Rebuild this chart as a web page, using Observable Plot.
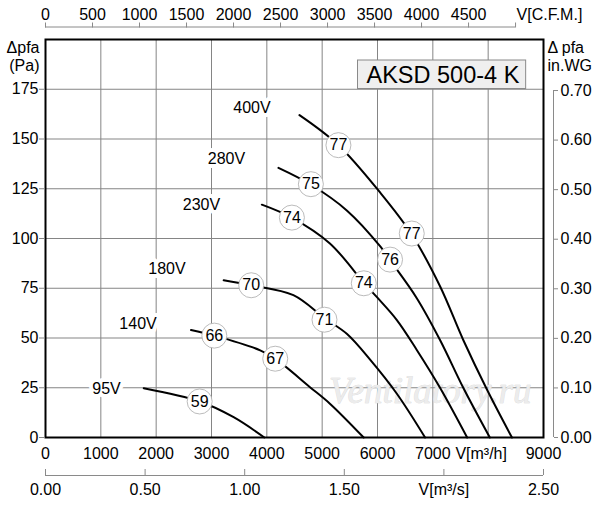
<!DOCTYPE html>
<html><head><meta charset="utf-8">
<script src="https://cdn.jsdelivr.net/npm/d3@7"></script>
<script src="https://cdn.jsdelivr.net/npm/@observablehq/plot@0.6"></script>
<style>
body{margin:0;background:#fff}
#chart svg{font-family:"Liberation Sans", Arial, Helvetica, sans-serif}
</style>
</head><body><div id="chart"></div>
<script>
// ---- scales / ticks ----
const xDomain = [0, 9000];            // m³/h
const yDomain = [0, 200];             // Pa
const flowTicks = [0, 1000, 2000, 3000, 4000, 5000, 6000, 7000, 9000];
const flowGrid = [1000, 2000, 3000, 4000, 5000, 6000, 7000, 8000];
const flowAxisLabel = "V[m³/h]";
const flowAxisLabelAt = 8000;
const paTicks = [0, 25, 50, 75, 100, 125, 150, 175];
const paGrid = [25, 50, 75, 100, 125, 150, 175];
const cfmTicks = [0, 500, 1000, 1500, 2000, 2500, 3000, 3500, 4000, 4500];
const cfmEnd = 5000;
const cfmAxisLabel = "V[C.F.M.]";
const m3sTicks = [0, 0.5, 1, 1.5, 2, 2.5];
const m3sLabels = ["0.00", "0.50", "1.00", "1.50", "V[m³/s]", "2.50"];
const inwgTicks = [0, 0.1, 0.2, 0.3, 0.4, 0.5, 0.6, 0.7];
const CFM_TO_M3H = 1.699;
const M3S_TO_M3H = 3600;
const INWG_TO_PA = 249.09;
const title = "AKSD 500-4 K";
const watermark = "Ventilatory.ru";

// ---- fan curves (V m³/h, Δpfa Pa) ----
const voltages = ["400V", "280V", "230V", "180V", "140V", "95V"];
const curveV400 = [[4590,162],[5290,147],[6050,123],[6620,102],[7130,76],[7550,49],[7980,24],[8430,0]];
const curveV280 = [[4210,135.5],[4800,127],[5450,114],[6050,96],[6230,89],[6710,70],[7130,49],[7550,25],[8030,0]];
const curveV230 = [[3910,117],[4450,110.5],[5140,97.5],[5760,77.5],[5990,70.5],[6350,59],[6710,44],[7130,25],[7620,0]];
const curveV180 = [[3220,79],[3720,76.5],[4480,71.5],[5040,60],[5450,52],[5870,39],[6350,22],[6860,0]];
const curveV140 = [[2630,54],[3050,51.2],[3880,43.8],[4150,39.6],[4780,25.3],[5140,17],[5750,0]];
const curveV95  = [[1775,24.8],[2790,18.1],[3400,10.2],[3955,0]];
const curves = [curveV400, curveV280, curveV230, curveV180, curveV140, curveV95];

// voltage label positions (m³/h, Pa)
const voltLabelX = [3732, 3271, 2819, 2196, 1672, 1102];
const voltLabelY = [165.8, 140.2, 117.1, 84.9, 57.3, 24.4];

// sound level markers (dB(A))
const noiseLevels = [77, 77, 75, 76, 74, 74, 70, 71, 66, 67, 59];
const noiseX = [5294, 6619, 4796, 6227, 4453, 5752, 3718, 5042, 3051, 4152, 2786];
const noiseY = [146.9, 102.5, 127.3, 89.4, 110.5, 77.5, 76.5, 59.2, 51.2, 39.6, 18.1];

// ---- build tables ----
const lineData = curves.flatMap((c, i) => c.map(([x, y]) => ({v: voltages[i], x, y})));
const voltData = voltages.map((v, i) => ({v, x: voltLabelX[i], y: voltLabelY[i]}));
const noiseData = noiseLevels.map((n, i) => ({n, x: noiseX[i], y: noiseY[i]}));
const m3sMap = new Map(m3sTicks.map((v, i) => [v * M3S_TO_M3H, m3sLabels[i]]));
const cfmMap = new Map(cfmTicks.map(v => [v * CFM_TO_M3H, String(v)]));

const gray = "#858585";
const axisGray = "#8a8a8a";

const plot = Plot.plot({
  width: 600, height: 505,
  marginLeft: 45, marginRight: 57, marginTop: 39, marginBottom: 68,
  x: {domain: xDomain, axis: null},
  y: {domain: yDomain, axis: null},
  style: {fontSize: "16px", background: "white", color: "black", overflow: "visible"},
  marks: [
    Plot.gridX(flowGrid, {stroke: gray, strokeOpacity: 1, strokeWidth: 1}),
    Plot.gridY(paGrid, {stroke: gray, strokeOpacity: 1, strokeWidth: 1}),
    Plot.text([watermark], {frameAnchor: "bottom-right", dx: -12, dy: -35, textAnchor: "end", lineAnchor: "bottom",
      fontSize: 37, fontStyle: "italic", fontFamily: "Liberation Serif, serif", fill: "#ececec", stroke: "#d2d2d2", strokeWidth: 0.6}),
    Plot.line(lineData, {x: "x", y: "y", z: "v", curve: "catmull-rom", stroke: "black", strokeWidth: 2}),
    Plot.dot(noiseData, {x: "x", y: "y", r: 12.5, fill: "white", stroke: "#aaa", strokeWidth: 0.8}),
    Plot.text(noiseData, {x: "x", y: "y", text: d => String(d.n), fontSize: 16, fill: "black"}),
    Plot.text(voltData, {x: "x", y: "y", text: "v", fontSize: 16, fill: "black", stroke: "white", strokeWidth: 8}),
    Plot.frame({stroke: "black", strokeWidth: 2}),
    // left Pa axis
    Plot.axisY(paTicks, {anchor: "left", tickSize: 6, tickPadding: 1, stroke: gray, tickFormat: d => String(d), label: null, fontSize: 16}),
    Plot.text(["Δpfa\n(Pa)"], {frameAnchor: "top-left", dx: -6, dy: 0, textAnchor: "end", lineAnchor: "top", lineHeight: 1.15, fontSize: 16}),
    // right in.WG axis
    Plot.ruleX([xDomain[1]], {y1: yDomain[0], y2: inwgTicks[inwgTicks.length - 1] * INWG_TO_PA, dx: 10, stroke: axisGray}),
    Plot.axisY(inwgTicks.map(v => v * INWG_TO_PA), {anchor: "right", dx: 10, tickSize: 4, tickPadding: 3, stroke: axisGray,
      tickFormat: d => (d / INWG_TO_PA).toFixed(2), label: null, fontSize: 16}),
    Plot.text(["Δ pfa\nin.WG"], {frameAnchor: "top-right", dx: 4, dy: 0, textAnchor: "start", lineAnchor: "top", lineHeight: 1.15, fontSize: 16}),
    // bottom m³/h axis
    Plot.axisX(flowTicks, {anchor: "bottom", tickSize: 0, tickPadding: 10, tickFormat: d => String(d), label: null, fontSize: 16}),
    Plot.text([flowAxisLabel], {x: flowAxisLabelAt, frameAnchor: "bottom", dx: -7, dy: 10, lineAnchor: "top", fontSize: 16}),
    // bottom m³/s axis
    Plot.ruleY([yDomain[0]], {x1: m3sTicks[0] * M3S_TO_M3H, x2: m3sTicks[m3sTicks.length - 1] * M3S_TO_M3H, dy: 38, stroke: axisGray}),
    Plot.axisX([...m3sMap.keys()], {anchor: "bottom", dy: 32, tickSize: 6, fill: "none", stroke: axisGray, label: null}),
    Plot.axisX([...m3sMap.keys()], {anchor: "bottom", dy: 46, tickSize: 0, tickPadding: 0, tickFormat: d => m3sMap.get(d), label: null, fontSize: 16}),
    // top CFM axis
    Plot.ruleY([yDomain[1]], {x1: 0, x2: cfmEnd * CFM_TO_M3H, dy: -12.5, stroke: axisGray}),
    Plot.axisX([...cfmTicks, cfmEnd].map(v => v * CFM_TO_M3H), {anchor: "top", dy: -12.5, tickSize: 5, fill: "none", stroke: axisGray, label: null}),
    Plot.axisX([...cfmMap.keys()], {anchor: "top", dy: -20, tickSize: 0, tickPadding: 0, tickFormat: d => cfmMap.get(d), label: null, fontSize: 16}),
    Plot.text([cfmAxisLabel], {x: cfmEnd * CFM_TO_M3H, frameAnchor: "top", dx: 1, dy: -20, textAnchor: "start", lineAnchor: "bottom", fontSize: 16}),
    // title
    Plot.text([title], {frameAnchor: "top-right", dx: -177, dy: 43, textAnchor: "start", lineAnchor: "bottom", fontSize: 23.5, fill: "black"})
  ]
});
document.getElementById("chart").appendChild(plot);

// draw the title box behind the title text
const t = d3.select(plot).selectAll("text").filter(function () { return this.textContent === title; }).node();
if (t) {
  const b = t.getBBox();
  d3.select(t.parentNode).insert("rect", () => t)
    .attr("x", b.x - 9).attr("y", b.y - 1.5)
    .attr("width", b.width + 15).attr("height", b.height + 2.5)
    .attr("fill", "#efefef").attr("stroke", "#8a8a8a").attr("stroke-width", 1)
    .attr("transform", t.getAttribute("transform"));
}
</script>
</body></html>
